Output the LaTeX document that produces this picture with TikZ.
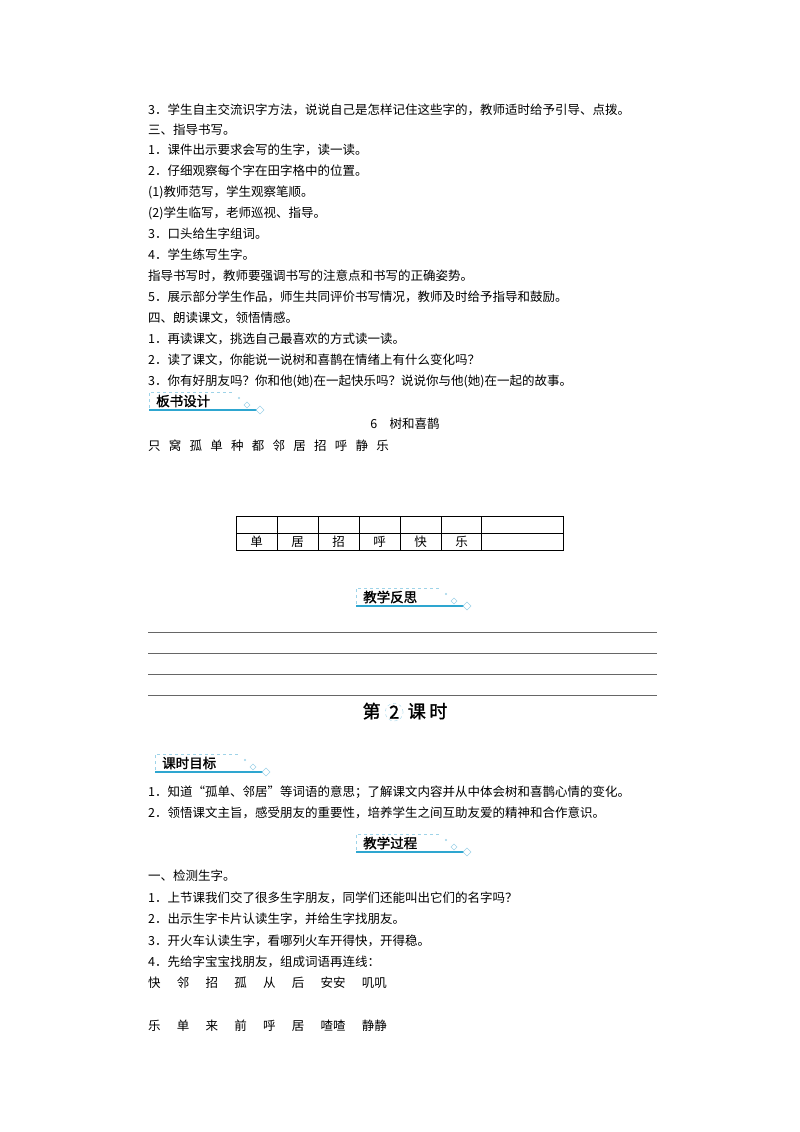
\documentclass[tikz,border=0pt]{standalone}
\usepackage{fontspec}
\setmainfont{Noto Sans CJK SC}
\newfontfamily\cjkb[FakeBold=1.5]{Noto Sans CJK SC}
\definecolor{bl}{HTML}{2EA6D0}
\definecolor{lb}{HTML}{9ED3E8}
\tikzset{
 tx/.style={anchor=west,inner sep=0pt,font=\fontsize{12.5}{14}\selectfont},
 bn/.style={anchor=west,inner sep=0pt,font=\cjkb\fontsize{13.5}{14}\selectfont},
 rl/.style={draw=black!60,line width=0.9pt}
}
\newcommand\banner[4]{% name, x, y, text
 \node[bn] (#1) at (#2+7,#3) {#4};
 \draw[lb,dashed,line width=0.8pt] (#2,#3+7) -- (#2,#3-9) -- (#2+85,#3-9);
 \draw[bl,line width=1.4pt] (#2,#3+9) -- (#2+108,#3+9);
 \draw[lb] (#2+98,#3+1) -- ++(3,3) -- ++(-3,3) -- ++(-3,-3) -- cycle;
 \draw[lb] (#2+111,#3+5) -- ++(4,4) -- ++(-4,4) -- ++(-4,-4) -- cycle;
 \fill[lb] (#2+90,#3-3) circle (1.2);
}
\begin{document}
\begin{tikzpicture}[x=1pt,y=-1pt]
\useasboundingbox[fill=white] (0,0) rectangle (800,1132);
\node[tx] (l1) at (148,110) {3．学生自主交流识字方法，说说自己是怎样记住这些字的，教师适时给予引导、点拨。};
\node[tx] (l2) at (148,130) {三、指导书写。};
\node[tx] (l3) at (148,150) {1．课件出示要求会写的生字，读一读。};
\node[tx] (l4) at (148,171) {2．仔细观察每个字在田字格中的位置。};
\node[tx] (l5) at (148,192) {(1)教师范写，学生观察笔顺。};
\node[tx] (l6) at (148,213) {(2)学生临写，老师巡视、指导。};
\node[tx] (l7) at (148,234) {3．口头给生字组词。};
\node[tx] (l8) at (148,255) {4．学生练写生字。};
\node[tx] (l9) at (148,276) {指导书写时，教师要强调书写的注意点和书写的正确姿势。};
\node[tx] (l10) at (148,297) {5．展示部分学生作品，师生共同评价书写情况，教师及时给予指导和鼓励。};
\node[tx] (l11) at (148,318) {四、朗读课文，领悟情感。};
\node[tx] (l12) at (148,339) {1．再读课文，挑选自己最喜欢的方式读一读。};
\node[tx] (l13) at (148,360) {2．读了课文，你能说一说树和喜鹊在情绪上有什么变化吗？};
\node[tx] (l14) at (148,381) {3．你有好朋友吗？你和他(她)在一起快乐吗？说说你与他(她)在一起的故事。};
\banner{b1}{149}{401}{板书设计}
\node[tx,anchor=center] (t6) at (405,424) {6\hspace{1em}树和喜鹊};
\node[tx] (cs) at (148,446) {只\hspace{0.66em}窝\hspace{0.66em}孤\hspace{0.66em}单\hspace{0.66em}种\hspace{0.66em}都\hspace{0.66em}邻\hspace{0.66em}居\hspace{0.66em}招\hspace{0.66em}呼\hspace{0.66em}静\hspace{0.66em}乐};
\draw[line width=0.8pt] (236,516) rectangle (563,550);
\draw[line width=0.7pt] (236,533) -- (563,533);
\foreach \x in {277,318,359,400,441,481} \draw[line width=0.7pt] (\x,516) -- (\x,550);
\foreach \c [count=\i] in {单,居,招,呼,快,乐}
  \node[tx,anchor=center] (c\i) at (236+41*\i-20.5,542) {\c};
\banner{b2}{356}{597}{教学反思}
\foreach \y in {632,653,674,695} \draw[rl] (148,\y) -- (657,\y);
\node[anchor=center,inner sep=0pt,font=\cjkb\fontsize{18}{20}\selectfont] (h2) at (405,712) {第\hspace{0.25em}\tikz[baseline=-0.6ex]\node[draw=lb,dashed,circle,inner sep=0.5pt]{2};\hspace{0.25em}课\hspace{0.2em}时};
\banner{b3}{155}{763}{课时目标}
\node[tx] (m1) at (148,792) {1．知道“孤单、邻居”等词语的意思；了解课文内容并从中体会树和喜鹊心情的变化。};
\node[tx] (m2) at (148,813) {2．领悟课文主旨，感受朋友的重要性，培养学生之间互助友爱的精神和合作意识。};
\banner{b4}{356}{843}{教学过程}
\node[tx] (p1) at (148,876) {一、检测生字。};
\node[tx] (p2) at (148,898) {1．上节课我们交了很多生字朋友，同学们还能叫出它们的名字吗？};
\node[tx] (p3) at (148,919) {2．出示生字卡片认读生字，并给生字找朋友。};
\node[tx] (p4) at (148,941) {3．开火车认读生字，看哪列火车开得快，开得稳。};
\node[tx] (p5) at (148,962) {4．先给字宝宝找朋友，组成词语再连线：};
\node[tx] (w1) at (148,983) {快\hspace{1.3em}邻\hspace{1.3em}招\hspace{1.3em}孤\hspace{1.3em}从\hspace{1.3em}后\hspace{1.3em}安安\hspace{1.3em}叽叽};
\node[tx] (w2) at (148,1026) {乐\hspace{1.3em}单\hspace{1.3em}来\hspace{1.3em}前\hspace{1.3em}呼\hspace{1.3em}居\hspace{1.3em}喳喳\hspace{1.3em}静静};
\end{tikzpicture}
\end{document}
